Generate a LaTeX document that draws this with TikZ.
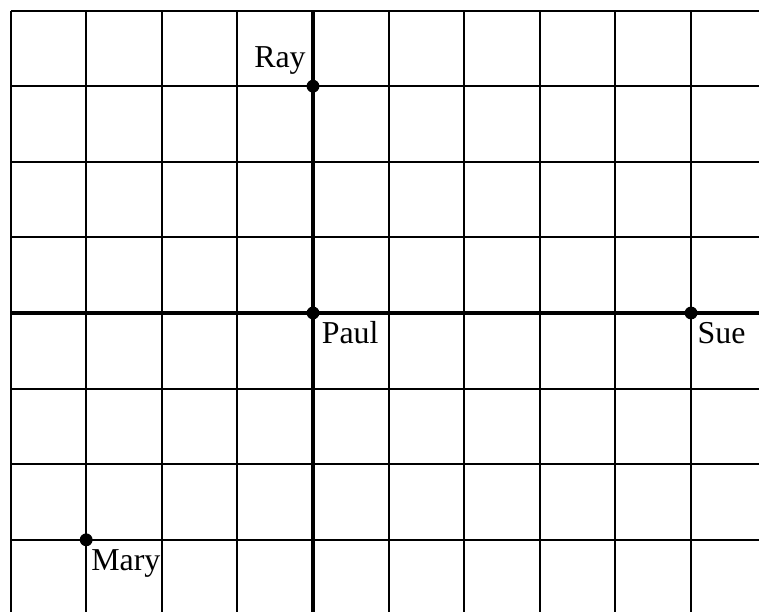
\documentclass[tikz,border=0pt]{standalone}
\usepackage{fontspec}
\setmainfont{Liberation Serif}
\begin{document}
\begin{tikzpicture}[>=stealth,
  gridline/.style={line width=0.75pt},
  axisline/.style={line width=1.6pt},
  dot/.style={circle, fill, inner sep=0pt, minimum size=0.17cm},
  lbl/.style={inner sep=0pt, font=\fontsize{12}{14}\selectfont}]
\useasboundingbox (-4.14,-3.955) rectangle (5.899,4.14);

% Gitter
\foreach \x in {-4,...,5}
  \draw[gridline] (\x,4) -- (\x,-3.955);
\foreach \y in {-3,...,4}
  \draw[gridline] (-4,\y) -- (5.899,\y);

% Achsen
\draw[axisline] (-4,0) -- (5.899,0);
\draw[axisline] (0,4) -- (0,-3.955);

% Punkte
\node[dot] (paul) at (0,0) {};
\node[dot] (ray) at (0,3) {};
\node[dot] (sue) at (5,0) {};
\node[dot] (mary) at (-3,-3) {};

% Namen
\node[lbl, anchor=base west] (paullbl) at ([xshift=0.11cm,yshift=-0.4cm]paul.center) {Paul};
\node[lbl, anchor=base east] (raylbl) at ([xshift=-0.09cm,yshift=0.25cm]ray.center) {Ray};
\node[lbl, anchor=base west] (suelbl) at ([xshift=0.08cm,yshift=-0.4cm]sue.center) {Sue};
\node[lbl, anchor=base west] (marylbl) at ([xshift=0.06cm,yshift=-0.41cm]mary.center) {Mary};

\end{tikzpicture}
\end{document}
